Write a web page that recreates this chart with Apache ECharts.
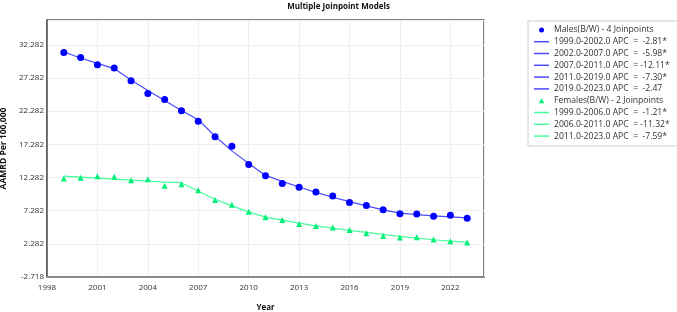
<!DOCTYPE html>
<html>
<head>
<meta charset="utf-8">
<script src="https://cdn.jsdelivr.net/npm/echarts@6/dist/echarts.min.js"></script>
<style>
  html, body { margin: 0; padding: 0; background: #fff; }
  #chart { width: 677px; height: 312px; }
</style>
</head>
<body>
<div id="chart"></div>
<script>
var years = [1999, 2000, 2001, 2002, 2003, 2004, 2005, 2006, 2007, 2008, 2009, 2010, 2011,
  2012, 2013, 2014, 2015, 2016, 2017, 2018, 2019, 2020, 2021, 2022, 2023];

var malesObserved = [31.13, 30.38, 29.28, 28.78, 26.88, 24.93, 24.03, 22.33, 20.78, 18.43, 16.98,
  14.23, 12.53, 11.38, 10.83, 10.08, 9.48, 8.53, 8.08, 7.43, 6.83, 6.78, 6.43, 6.58, 6.13];
var malesFitted = [31.2, 30.3, 29.5, 28.7, 27.0, 25.4, 23.9, 22.4, 21.0, 18.5, 16.3,
  14.4, 12.6, 11.7, 10.85, 10.05, 9.3, 8.65, 8.0, 7.4, 6.9, 6.7, 6.5, 6.35, 6.2];

var femalesObserved = [12.13, 12.23, 12.48, 12.38, 11.88, 12.03, 11.03, 11.28, 10.38, 8.88, 8.18,
  7.13, 6.28, 5.88, 5.28, 4.98, 4.73, 4.38, 3.88, 3.48, 3.23, 3.28, 2.93, 2.68, 2.48];
var femalesFitted = [12.5, 12.35, 12.2, 12.05, 11.9, 11.75, 11.6, 11.5, 10.2, 9.0, 8.0,
  7.1, 6.3, 5.85, 5.4, 5.0, 4.65, 4.3, 4.0, 3.7, 3.4, 3.15, 2.9, 2.7, 2.5];

var maleSegments = [
  { name: '1999.0-2002.0 APC  =  -2.81*', from: 1999, to: 2002 },
  { name: '2002.0-2007.0 APC  =  -5.98*', from: 2002, to: 2007 },
  { name: '2007.0-2011.0 APC  = -12.11*', from: 2007, to: 2011 },
  { name: '2011.0-2019.0 APC  =  -7.30*', from: 2011, to: 2019 },
  { name: '2019.0-2023.0 APC  =  -2.47', from: 2019, to: 2023 }
];
var femaleSegments = [
  { name: '1999.0-2006.0 APC  =  -1.21*', from: 1999, to: 2006 },
  { name: '2006.0-2011.0 APC  = -11.32*', from: 2006, to: 2011 },
  { name: '2011.0-2023.0 APC  =  -7.59*', from: 2011, to: 2023 }
];

var yMin = -2.718;
var yStep = 5;

var maleName = 'Males(B/W) - 4 Joinpoints';
var femaleName = 'Females(B/W) - 2 Joinpoints';
var maleColor = '#0000ff';
var maleLine = '#4a4aff';
var femaleColor = '#00f07a';
var femaleLine = '#44ff99';
var font = 'Open Sans';
var lineIcon = 'path://M0,0L30,0L30,3L0,3Z';
var triIcon = 'path://M5,0L10,9L0,9Z';

function pairs(values) {
  return years.map(function (y, i) { return [y, values[i]]; });
}

function segmentSeries(seg, fitted, color) {
  var data = [];
  years.forEach(function (y, i) {
    if (y >= seg.from && y <= seg.to) data.push([y, fitted[i]]);
  });
  return {
    name: seg.name,
    type: 'line',
    data: data,
    symbol: 'none',
    lineStyle: { color: color, width: 1.2 },
    itemStyle: { color: color },
    z: 2
  };
}

var series = [];
series.push({
  name: maleName,
  type: 'scatter',
  data: pairs(malesObserved),
  symbol: 'circle',
  symbolSize: 7,
  itemStyle: { color: maleColor, opacity: 1 },
  z: 3
});
maleSegments.forEach(function (s) { series.push(segmentSeries(s, malesFitted, maleLine)); });
series.push({
  name: femaleName,
  type: 'scatter',
  data: pairs(femalesObserved),
  symbol: 'triangle',
  symbolSize: 6,
  itemStyle: { color: femaleColor, opacity: 1 },
  z: 3
});
femaleSegments.forEach(function (s) { series.push(segmentSeries(s, femalesFitted, femaleLine)); });

var legendData = [{ name: maleName, icon: 'circle', itemStyle: { color: maleColor } }];
maleSegments.forEach(function (s) {
  legendData.push({ name: s.name, icon: lineIcon, itemStyle: { color: maleLine } });
});
legendData.push({ name: femaleName, icon: triIcon, itemStyle: { color: femaleColor } });
femaleSegments.forEach(function (s) {
  legendData.push({ name: s.name, icon: lineIcon, itemStyle: { color: femaleLine } });
});

var myChart = echarts.init(document.getElementById('chart'));
var option = {
  animation: false,
  backgroundColor: '#fff',
  textStyle: { fontFamily: font },
  title: {
    text: 'Multiple Joinpoint Models',
    left: 'center',
    top: -2,
    textStyle: { fontSize: 8, fontWeight: 'bold', color: '#111', fontFamily: font }
  },
  legend: {
    orient: 'vertical',
    left: 528,
    top: 21,
    padding: [3, 16, 4, 6],
    borderColor: '#cccccc',
    borderWidth: 1,
    itemWidth: 15,
    itemHeight: 5,
    itemGap: 0,
    symbolKeepAspect: true,
    selectedMode: false,
    data: legendData,
    textStyle: { fontSize: 8.6, color: '#333', lineHeight: 11.8, fontFamily: font }
  },
  grid: {
    left: 47,
    top: 20,
    right: 193,
    bottom: 35,
    outerBoundsMode: 'none',
    containLabel: false,
    show: true,
    borderColor: '#555',
    borderWidth: 1.5
  },
  xAxis: {
    type: 'value',
    min: 1998,
    max: 2024,
    interval: 3,
    name: 'Year',
    nameLocation: 'middle',
    nameGap: 27,
    nameTextStyle: { fontSize: 8, fontWeight: 'bold', color: '#111' },
    axisLine: { show: true, onZero: false, lineStyle: { color: '#888', width: 2 } },
    axisTick: { show: false },
    axisLabel: { fontSize: 8, color: '#333', margin: 7, showMaxLabel: false,
      formatter: function (v) { return String(v); } },
    splitLine: { show: true, lineStyle: { color: '#eeeeee' } }
  },
  yAxis: {
    type: 'value',
    min: yMin,
    max: 36.03,
    interval: yStep,
    name: 'AAMRD Per 100,000',
    nameLocation: 'middle',
    nameGap: 37,
    nameTextStyle: { fontSize: 8.5, fontWeight: 'bold', color: '#111' },
    axisLine: { show: true, onZero: false, lineStyle: { color: '#555', width: 1.5 } },
    axisTick: { show: false },
    axisLabel: { fontSize: 8, color: '#333', margin: 3, showMaxLabel: false,
      formatter: function (v) {
        var k = Math.round((v - yMin) / yStep);
        return (yMin + k * yStep).toFixed(3);
      } },
    splitLine: { show: true, lineStyle: { color: '#eeeeee' } }
  },
  series: series
};
myChart.setOption(option);
</script>
</body>
</html>
